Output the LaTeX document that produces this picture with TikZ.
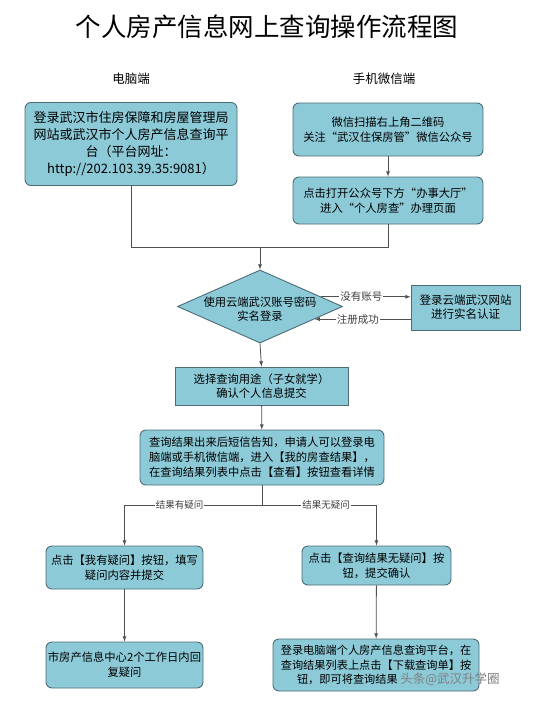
\documentclass[tikz,border=0pt]{standalone}
\usepackage{fontspec}
\setmainfont{Noto Sans CJK SC}
\usetikzlibrary{shapes.geometric}
\definecolor{boxfill}{HTML}{8CCAD8}
\definecolor{boxline}{HTML}{4E6D77}
\definecolor{linkgray}{HTML}{505050}
\newcommand{\boxfont}{\fontsize{11.3}{15}\selectfont}

\begin{document}
\begin{tikzpicture}[x=1pt,y=-1pt,>=latex,
    box/.style={draw=boxline,fill=boxfill,line width=0.9pt,align=center,inner sep=0pt,font=\boxfont},
    rbox/.style={box,rounded corners=6pt},
    dia/.style={box,diamond},
    link/.style={draw=linkgray,line width=0.8pt},
    tag/.style={fill=white,inner sep=1pt,text=black!75,font=\fontsize{9.5}{10}\selectfont}]
\useasboundingbox[fill=white] (0,0) rectangle (534,709);

% title and the two entry columns
\node (title) at (267,27) {\fontsize{25.5}{28}\selectfont 个人房产信息网上查询操作流程图};
\node (pchead) at (131,79) {\fontsize{12.5}{14}\selectfont 电脑端};
\node (wxhead) at (384,79) {\fontsize{12.5}{14}\selectfont 手机微信端};

\node[rbox,minimum width=212,minimum height=83,font=\fontsize{13}{17}\selectfont] (pc) at (131,144)
    {登录武汉市住房保障和房屋管理局\\网站或武汉市个人房产信息查询平\\台（平台网址：\\http://202.103.39.35:9081）};
\node[rbox,minimum width=190,minimum height=53] (wx1) at (388,129.5)
    {微信扫描右上角二维码\\关注“武汉住保房管”微信公众号};
\node[rbox,minimum width=190,minimum height=47] (wx2) at (388,200.5)
    {点击打开公众号下方“办事大厅”\\进入“个人房查”办理页面};

% login and registration
\node[dia,minimum width=165,minimum height=73] (login) at (260,306.5)
    {\smash{\makebox[0pt]{\raisebox{-7pt}{\fontsize{11.3}{14}\selectfont\begin{tabular}{@{}c@{}}使用云端武汉账号密码\\实名登录\end{tabular}}}}};
\node[box,minimum width=109,minimum height=45,font=\fontsize{11.5}{14}\selectfont] (reg) at (465.5,307.5)
    {登录云端武汉网站\\进行实名认证};

\node[box,minimum width=173,minimum height=38,font=\fontsize{11.3}{13.5}\selectfont] (purpose) at (261.5,386)
    {选择查询用途（子女就学）\\确认个人信息提交};
\node[rbox,minimum width=244,minimum height=55] (result) at (262,457.5)
    {查询结果出来后短信告知，申请人可以登录电\\脑端或手机微信端，进入【我的房查结果】，\\在查询结果列表中点击【查看】按钮查看详情};

% the two outcomes
\node[rbox,minimum width=157,minimum height=43] (doubt) at (124.5,567.5)
    {点击【我有疑问】按钮，填写\\疑问内容并提交};
\node[rbox,minimum width=149,minimum height=39] (nodoubt) at (376.5,565.5)
    {点击【查询结果无疑问】按\\钮，提交确认};
\node[rbox,minimum width=157,minimum height=46] (reply) at (124.5,665)
    {市房产信息中心2个工作日内回\\复疑问};
\node[rbox,minimum width=206,minimum height=52,font=\fontsize{11.2}{14.5}\selectfont] (download) at (376,665)
    {登录电脑端个人房产信息查询平台，在\\查询结果列表上点击【下载查询单】按\\\makebox[158pt][l]{钮，即可将查询结果}};
\node[text=black!50,font=\fontsize{12.5}{14}\selectfont] (mark) at (450,679) {头条@武汉升学圈};

% connectors
\coordinate (join) at (260,247);
\coordinate (split) at (262,505);
\draw[link,->] (wx1) -- (wx2);
\draw[link] (pc.south) |- (join);
\draw[link] (wx2.south) |- (join);
\draw[link,->] (join) -- (login.north);
\draw[link,->] (login.9) -- (reg.west |- login.9) node[tag,pos=0.45,font=\fontsize{10.5}{12}\selectfont]{没有账号};
\draw[link,->] (reg.west |- login.-13) -- (login.-13) node[tag,pos=0.55,font=\fontsize{10.5}{12}\selectfont]{注册成功};
\draw[link,->] (login.south) -- (purpose.north);
\draw[link,->] (purpose) -- (result);
\draw[link] (result.south) -- (split);
\draw[link,->] (split) -| (doubt.north) node[tag,pos=0.3]{结果有疑问};
\draw[link,->] (split) -| (nodoubt.north) node[tag,pos=0.28]{结果无疑问};
\draw[link,->] (doubt) -- (reply);
\draw[link,->] (nodoubt) -- (download);
\end{tikzpicture}
\end{document}
